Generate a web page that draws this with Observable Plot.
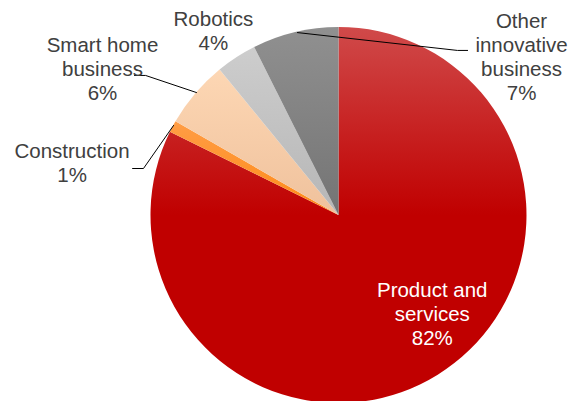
<!DOCTYPE html>
<html>
<head>
<meta charset="utf-8">
<script src="https://cdn.jsdelivr.net/npm/d3@7"></script>
<script src="https://cdn.jsdelivr.net/npm/@observablehq/plot@0.6"></script>
<style>
  html, body { margin: 0; padding: 0; background: #fff; }
</style>
</head>
<body>
<div id="chart"></div>
<script>
// ---- Data ----
const categories = ["Product and\nservices", "Construction", "Smart home\nbusiness", "Robotics", "Other\ninnovative\nbusiness"];
const shares = [82.3, 1.0, 5.8, 3.5, 7.4];
const colorTop = ["#d04a4a", "#ff9d45", "#fdd7b4", "#cdcdcd", "#909090"];
const colorBottom = ["#c00000", "#ff8a16", "#efc19c", "#b6b6b6", "#747474"];

// ---- Layout (pie in unit coordinates: centre 0,0, radius 1) ----
const W = 572, H = 401, CX = 338.5, CY = 215, R = 188;
const labelX = [0.496, -1.420, -1.258, -0.668, 0.971];
const labelY = [-0.521, 0.282, 0.782, 0.984, 0.846];
const labelFill = ["#ffffff", "#404040", "#404040", "#404040", "#404040"];
const leaders = [
  {k: 4, pts: [[-0.221, 0.973], [0.630, 0.878], [0.684, 0.878]]},
  {k: 2, pts: [[-0.758, 0.654], [-1.029, 0.745], [-1.088, 0.745]]},
  {k: 1, pts: [[-0.880, 0.479], [-1.040, 0.250], [-1.098, 0.250]]}
];

const slices = d3.pie().sort(null).value(d => d)(shares);

const labelData = categories.map((c, i) => ({
  text: c + "\n" + Math.round(shares[i]) + "%",
  x: labelX[i], y: labelY[i], fill: labelFill[i]
}));
const leaderData = leaders.flatMap(l => l.pts.map(p => ({k: l.k, x: p[0], y: p[1]})));

function pieMark(index, scales) {
  const sx = scales.x, sy = scales.y;
  const cx = sx(0), cy = sy(0), r = Math.abs(sx(1) - sx(0));
  const ns = "http://www.w3.org/2000/svg";
  const g = document.createElementNS(ns, "g");
  const defs = document.createElementNS(ns, "defs");
  g.appendChild(defs);
  const arc = d3.arc().innerRadius(0).outerRadius(r);
  slices.forEach((s, i) => {
    const grad = document.createElementNS(ns, "linearGradient");
    grad.setAttribute("id", "pieGrad" + i);
    grad.setAttribute("x1", "0"); grad.setAttribute("y1", "0");
    grad.setAttribute("x2", "0"); grad.setAttribute("y2", "1");
    const stops = i === 0 ? [[0, colorTop[i]], [0.5, colorBottom[i]], [1, colorBottom[i]]]
                          : [[0, colorTop[i]], [1, colorBottom[i]]];
    for (const [o, c] of stops) {
      const st = document.createElementNS(ns, "stop");
      st.setAttribute("offset", o);
      st.setAttribute("stop-color", c);
      grad.appendChild(st);
    }
    defs.appendChild(grad);
    const p = document.createElementNS(ns, "path");
    p.setAttribute("d", arc(s));
    p.setAttribute("transform", `translate(${cx},${cy})`);
    p.setAttribute("fill", `url(#pieGrad${i})`);
    g.appendChild(p);
  });
  return g;
}

const chart = Plot.plot({
  width: W,
  height: H,
  margin: 0,
  style: {background: "#fff", fontFamily: "'Liberation Sans', Arial, sans-serif"},
  x: {domain: [-CX / R, (W - CX) / R], axis: null},
  y: {domain: [-(H - CY) / R, CY / R], axis: null},
  marks: [
    pieMark,
    Plot.line(leaderData, {x: "x", y: "y", z: "k", stroke: "#000", strokeWidth: 1}),
    Plot.text(labelData, {
      x: "x", y: "y", text: "text", fill: "fill",
      fontSize: 20.5, lineHeight: 1.17, textAnchor: "middle"
    })
  ]
});
document.getElementById("chart").appendChild(chart);
</script>
</body>
</html>
